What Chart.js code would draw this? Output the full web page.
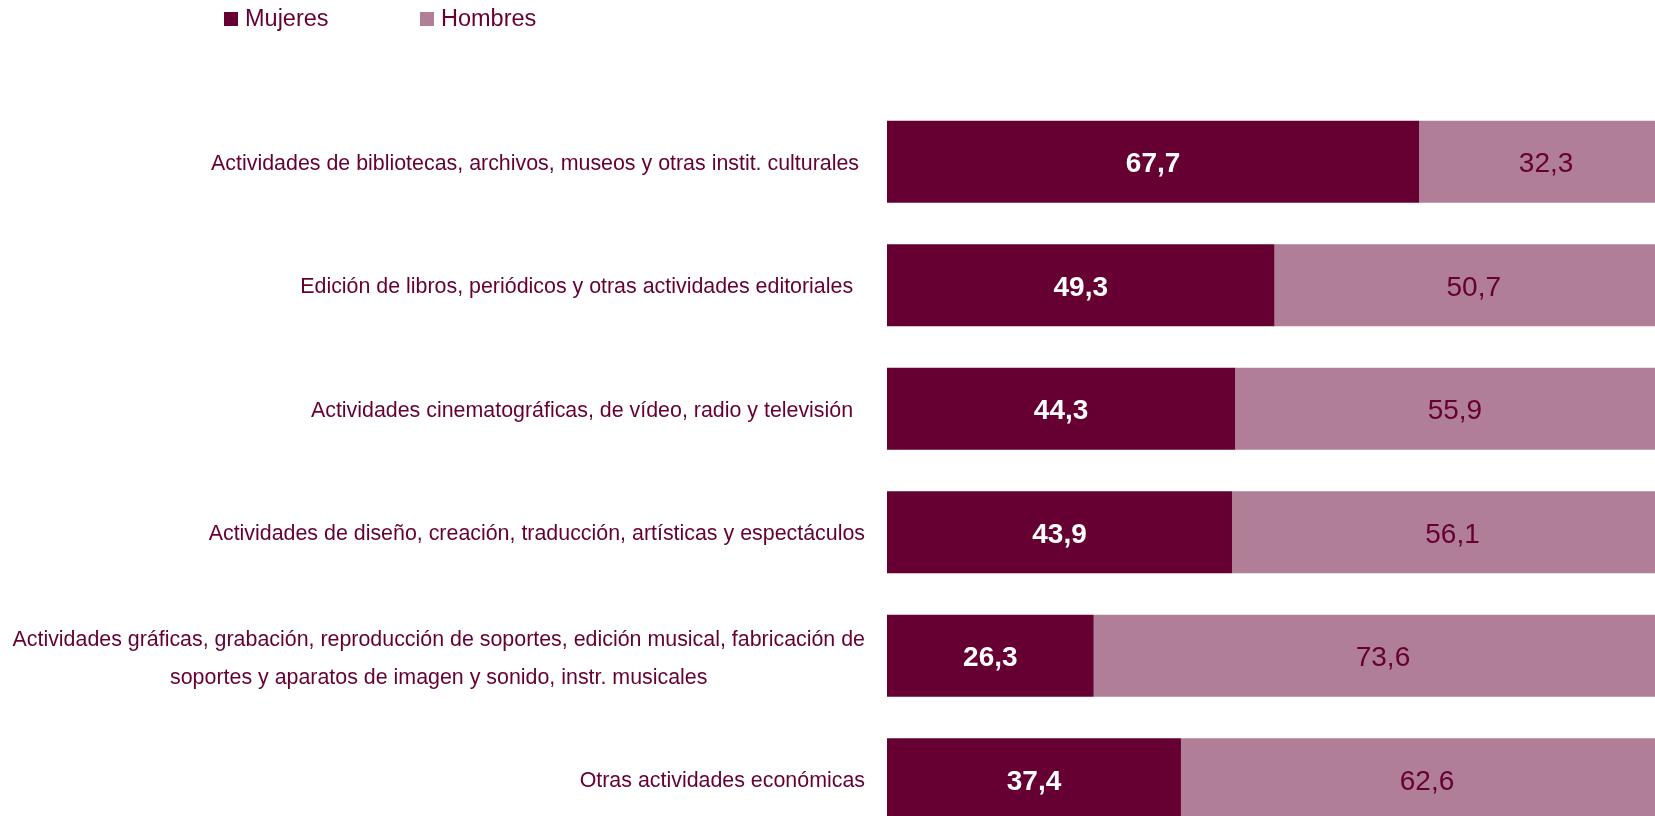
<!DOCTYPE html>
<html>
<head>
<meta charset="utf-8">
<script src="https://cdn.jsdelivr.net/npm/chart.js@4.4.0/dist/chart.umd.min.js"></script>
<style>
    html, body { margin: 0; padding: 0; background: #ffffff; overflow: hidden; }
    #wrap { width: 1673px; height: 841px; position: relative; }
</style>
</head>
<body>
<div id="wrap"><canvas id="chart"></canvas></div>
<script>
// Categories (multi-line labels are arrays; trailing spaces as in the source labels)
const categories = [
    'Actividades de bibliotecas, archivos, museos y otras instit. culturales ',
    'Edición de libros, periódicos y otras actividades editoriales  ',
    'Actividades cinematográficas, de vídeo, radio y televisión  ',
    'Actividades de diseño, creación, traducción, artísticas y espectáculos',
    ['Actividades gráficas, grabación, reproducción de soportes, edición musical, fabricación de',
     'soportes y aparatos de imagen y sonido, instr. musicales'],
    'Otras actividades económicas'
];
const mujeres = [67.7, 49.3, 44.3, 43.9, 26.3, 37.4];
const hombres = [32.3, 50.7, 55.9, 56.1, 73.6, 62.6];

const MAROON = '#660033';
const PINK = '#b07e96';
const FONT = '"Liberation Sans", Arial, sans-serif';

// Category labels: single lines right aligned, wrapped labels centred as a block
const categoryLabels = {
    id: 'categoryLabels',
    afterDraw(chart) {
        const ctx = chart.ctx;
        const yScale = chart.scales.y;
        const rightX = 865;
        const lineH = 38;
        ctx.save();
        ctx.font = '21.4px ' + FONT;
        ctx.fillStyle = MAROON;
        ctx.textBaseline = 'middle';
        categories.forEach((label, i) => {
            const cy = yScale.getPixelForTick(i) + 2;
            if (Array.isArray(label)) {
                const widest = Math.max(...label.map(l => ctx.measureText(l).width));
                ctx.textAlign = 'center';
                const cx = rightX - widest / 2;
                label.forEach((line, j) => {
                    ctx.fillText(line, cx, cy + 1 + (j - (label.length - 1) / 2) * lineH);
                });
            } else {
                ctx.textAlign = 'right';
                ctx.fillText(label, rightX, cy);
            }
        });
        ctx.restore();
    }
};

// Value labels centred in each segment
const valueLabels = {
    id: 'valueLabels',
    afterDatasetsDraw(chart) {
        const ctx = chart.ctx;
        ctx.save();
        ctx.textAlign = 'center';
        ctx.textBaseline = 'middle';
        chart.data.datasets.forEach((ds, di) => {
            const meta = chart.getDatasetMeta(di);
            ctx.fillStyle = di === 0 ? '#ffffff' : MAROON;
            ctx.font = (di === 0 ? 'bold ' : '') + '28px ' + FONT;
            meta.data.forEach((bar, i) => {
                const cx = (bar.x + bar.base) / 2;
                ctx.fillText(ds.data[i].toFixed(1).replace('.', ','), cx, bar.y + 3);
            });
        });
        ctx.restore();
    }
};

// Legend at the top left
const topLegend = {
    id: 'topLegend',
    afterDraw(chart) {
        const ctx = chart.ctx;
        const items = [{ x: 224 }, { x: 420 }];
        ctx.save();
        ctx.font = '23.5px ' + FONT;
        ctx.textBaseline = 'middle';
        ctx.textAlign = 'left';
        chart.data.datasets.forEach((ds, i) => {
            const x = items[i].x;
            ctx.fillStyle = ds.backgroundColor;
            ctx.fillRect(x, 12, 14, 14);
            ctx.fillStyle = MAROON;
            ctx.fillText(ds.label, x + 21, 20);
        });
        ctx.restore();
    }
};

const ctx = document.getElementById('chart').getContext('2d');
const chart = new Chart(ctx, {
    type: 'bar',
    data: {
        labels: categories,
        datasets: [{
            label: 'Mujeres',
            data: mujeres,
            backgroundColor: MAROON,
            borderWidth: 0,
            barPercentage: 0.665,
            categoryPercentage: 1
        }, {
            label: 'Hombres',
            data: hombres,
            backgroundColor: PINK,
            borderWidth: 0,
            barPercentage: 0.665,
            categoryPercentage: 1
        }]
    },
    options: {
        indexAxis: 'y',
        responsive: true,
        maintainAspectRatio: false,
        animation: false,
        layout: {
            padding: { left: 887, top: 100, right: 0, bottom: 0 }
        },
        plugins: {
            legend: { display: false },
            tooltip: { enabled: false }
        },
        scales: {
            x: {
                stacked: true,
                min: 0,
                max: 100,
                display: false
            },
            y: {
                stacked: true,
                display: false
            }
        }
    },
    plugins: [categoryLabels, valueLabels, topLegend]
});
</script>
</body>
</html>
